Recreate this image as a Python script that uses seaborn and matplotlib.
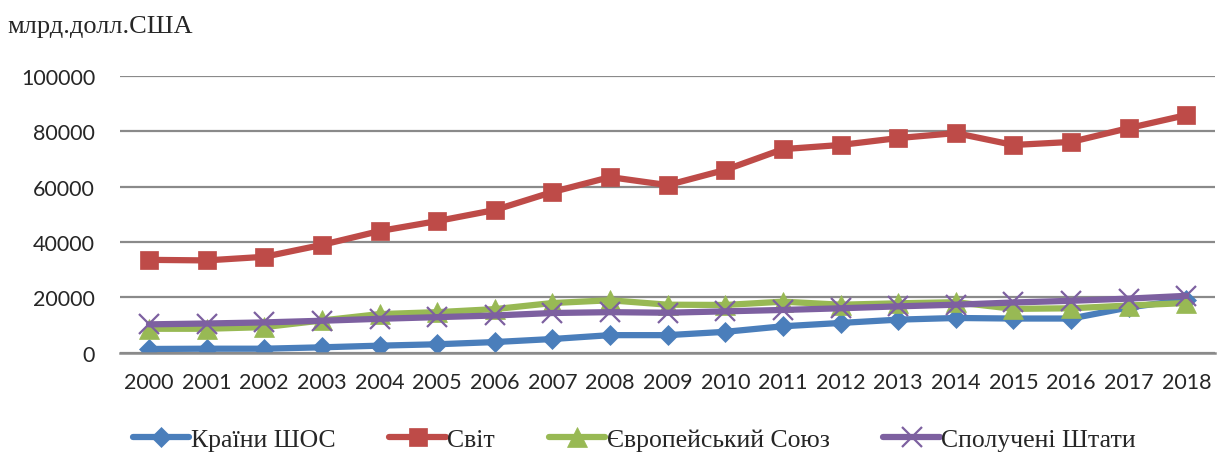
import matplotlib
matplotlib.use("Agg")
import matplotlib.pyplot as plt
import seaborn as sns
import pandas as pd

# data
years = [str(y) for y in range(2000, 2019)]
sco = [1400, 1500, 1500, 2000, 2600, 3100, 3900, 5000, 6400, 6400, 7600,
       9600, 10800, 12000, 12600, 12400, 12400, 16400, 19200]
world = [33600, 33400, 34700, 39000, 44000, 47600, 51600, 58100, 63500, 60600,
         66100, 73600, 75100, 77600, 79400, 75100, 76200, 81200, 85900]
eu = [8700, 8700, 9300, 11700, 14000, 14700, 15800, 18000, 19000, 17400, 17300,
      18500, 17400, 17900, 18300, 15900, 16100, 17100, 18000]
usa = [10300, 10600, 11000, 11600, 12300, 12900, 13500, 14400, 14700, 14500,
       15000, 15500, 16100, 16800, 17400, 18200, 18800, 19600, 20600]

names = ["Країни ШОС", "Світ", "Європейський Союз", "Сполучені Штати"]
colors = ["#4A7EBB", "#BE4B48", "#98B954", "#7D60A0"]
markers = ["D", "s", "^", "x"]
msizes = [10.5, 13, 14, 14]

sns.set_style("white")
plt.rcParams["font.family"] = ["Lato", "DejaVu Sans"]

fig = plt.figure(figsize=(12.2, 4.56), dpi=100)
ax = fig.add_axes([0.0985, 0.224, 0.8975, 0.607])

for name, vals, c, m, ms in zip(names, [sco, world, eu, usa], colors, markers, msizes):
    df = pd.DataFrame({"year": years, "value": vals})
    sns.lineplot(data=df, x="year", y="value", ax=ax, color=c, lw=4.5,
                 marker=m, markersize=ms, markeredgecolor=c,
                 markeredgewidth=1.6 if m == "x" else 0.5, label=name)

ax.set_ylim(0, 100000)
ax.set_xlim(-0.5, 18.5)
ax.set_yticks(range(0, 100001, 20000))
ax.yaxis.grid(True, color="#8a8a8a", lw=1.6)
ax.xaxis.grid(False)
for s in ["top", "right", "left"]:
    ax.spines[s].set_visible(False)
ax.spines["bottom"].set_color("#8a8a8a")
ax.spines["bottom"].set_linewidth(1.8)
ax.tick_params(axis="both", length=0, labelsize=15.5)
ax.tick_params(axis="y", pad=18)
ax.tick_params(axis="x", pad=14)
ax.set_xlabel("")
ax.set_ylabel("")

fig.text(0.006, 0.94, "млрд.долл.США", fontsize=19, family=["Liberation Serif"],
         va="center", ha="left")

ax.get_legend().remove()
handles, labels = ax.get_legend_handles_labels()
fig.legend(handles, labels, loc="center", bbox_to_anchor=(0.52, 0.035), ncol=4,
           frameon=False, handlelength=2.2, handletextpad=0.05, columnspacing=2.1,
           prop={"family": "Liberation Serif", "size": 18.5})

fig.savefig("out.png", dpi=100)
